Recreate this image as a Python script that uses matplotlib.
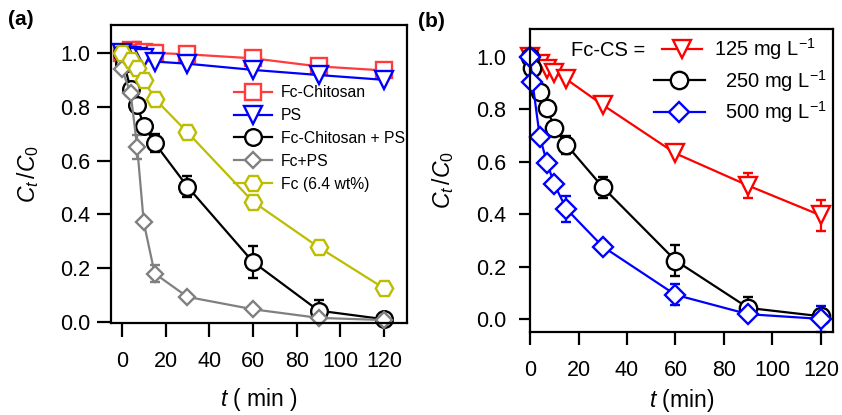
import numpy as np
import matplotlib
matplotlib.use("Agg")
from matplotlib import pyplot as plt

plt.rcParams['font.family'] = ['Liberation Sans', 'DejaVu Sans']
plt.rcParams['mathtext.fontset'] = 'custom'
plt.rcParams['mathtext.rm'] = 'Liberation Sans'
plt.rcParams['mathtext.it'] = 'Liberation Sans:italic'

# sampling times (min)
t_a = [0, 4, 7, 10, 15, 30, 60, 90, 120]
t_b = [0, 1, 4, 7, 10, 15, 30, 60, 90, 120]

# (a) control experiments
fc_chitosan = [1.0, 1.01, 1.0, 1.005, 1.0, 0.995, 0.98, 0.95, 0.935]
fc_chitosan_err = [0, 0, 0.04, 0, 0.03, 0, 0, 0, 0]
ps_only = [1.0, 0.99, 0.985, 0.98, 0.968, 0.96, 0.937, 0.918, 0.90]
fc_ps = [0.94, 0.85, 0.65, 0.37, 0.18, 0.093, 0.047, 0.015, 0.007]
fc_ps_err = [0, 0, 0.045, 0, 0.03, 0, 0, 0, 0]
fc_only = [1.0, 0.975, 0.945, 0.90, 0.83, 0.705, 0.447, 0.278, 0.125]

# Fc-Chitosan + PS, 250 mg/L (shared by both panels)
fc_cs_ps = [1.0, 0.96, 0.865, 0.805, 0.73, 0.665, 0.503, 0.223, 0.042, 0.01]
fc_cs_ps_err = [0, 0, 0, 0, 0, 0.035, 0.04, 0.06, 0.04, 0]

# (b) catalyst dosage
cs_125 = [1.0, 0.975, 0.955, 0.94, 0.915, 0.817, 0.632, 0.509, 0.395]
cs_125_err = [0, 0, 0, 0, 0, 0, 0, 0.048, 0.06]
cs_500 = [1.0, 0.905, 0.696, 0.597, 0.514, 0.42, 0.276, 0.092, 0.018, 0.0]
cs_500_err = [0, 0, 0, 0, 0, 0.05, 0, 0.04, 0, 0.05]

fig = plt.figure(figsize=(8.42, 4.15), dpi=100)
ax1 = fig.add_axes([0.1318, 0.2217, 0.3516, 0.7181])
ax2 = fig.add_axes([0.6295, 0.2000, 0.3599, 0.7301])


def series(ax, x, y, err, color, marker, ms):
    cont = ax.errorbar(x, y, yerr=err, color=color, marker=marker, ms=ms,
                       mfc='white', mec=color, mew=1.7, lw=1.6, elinewidth=1.6,
                       capsize=3.5, capthick=1.6, clip_on=False)
    # return only the data line so legend handles carry no error bars
    return cont[0]


red_a = '#ff3b3b'
yellow = '#bcbc00'
gray = '#808080'

lines_a = [
    series(ax1, t_a, fc_chitosan, fc_chitosan_err, red_a, 's', 11.5),
    series(ax1, t_a, ps_only, None, 'blue', 'v', 12.5),
    series(ax1, t_b, fc_cs_ps, fc_cs_ps_err, 'black', 'o', 12),
    series(ax1, t_a, fc_ps, fc_ps_err, gray, 'D', 8.5),
    series(ax1, t_a, fc_only, None, yellow, 'H', 12.5),
]
labels_a = ['Fc-Chitosan', 'PS', 'Fc-Chitosan + PS', 'Fc+PS', 'Fc (6.4 wt%)']

lines_b = [
    series(ax2, t_a, cs_125, cs_125_err, 'red', 'v', 13),
    series(ax2, t_b, fc_cs_ps, fc_cs_ps_err, 'black', 'o', 12.5),
    series(ax2, t_b, cs_500, cs_500_err, 'blue', 'D', 10),
]
labels_b = ['125 mg L$^{-1}$', '250 mg L$^{-1}$', '500 mg L$^{-1}$']

ax1.set_xlim(-5, 130.5)
ax1.set_ylim(-0.004, 1.104)
ax2.set_xlim(0, 125)
ax2.set_ylim(-0.05, 1.107)

for ax in (ax1, ax2):
    ax.set_xticks(np.arange(0, 121, 20))
    ax.set_yticks(np.arange(0, 1.01, 0.2))
    ax.yaxis.set_major_formatter(matplotlib.ticker.FormatStrFormatter('%.1f'))
    for s in ax.spines.values():
        s.set_linewidth(1.6)
    ax.tick_params(labelsize=15.5, width=1.6)
    ax.set_ylabel(r'$C_t\,/C_0$', fontsize=16.5)

ax1.tick_params(axis='x', length=10, pad=10)
ax1.tick_params(axis='y', length=10, pad=5)
ax2.tick_params(axis='x', length=9.5, pad=11)
ax2.tick_params(axis='y', length=8, pad=9)
ax1.set_xlabel(r'$t$ ( min )', fontsize=16.5, labelpad=10)
ax2.set_xlabel(r'$t$ (min)', fontsize=16.5, labelpad=4)
ax1.yaxis.set_label_coords(-0.235, 0.5)
ax2.yaxis.set_label_coords(-0.245, 0.5)

ax1.legend(lines_a, labels_a, loc='upper left', bbox_to_anchor=(0.415, 0.798),
           frameon=False, fontsize=11.3, handlelength=2.4, handletextpad=0.6,
           labelspacing=0.5, borderpad=0, borderaxespad=0)

# dosage legend: first entry sits after the "Fc-CS =" prefix
leg_top = ax2.legend(lines_b[:1], labels_b[:1], loc='upper left',
                     bbox_to_anchor=(0.435, 0.975), frameon=False, fontsize=14.5,
                     handlelength=2.0, handletextpad=0.6, borderpad=0,
                     borderaxespad=0)
ax2.add_artist(leg_top)
ax2.legend(lines_b[1:], labels_b[1:], loc='upper left', bbox_to_anchor=(0.41, 0.872),
           frameon=False, fontsize=14.5, handlelength=2.5, handletextpad=1.0,
           labelspacing=0.28, borderpad=0, borderaxespad=0)
ax2.text(0.135, 0.93, 'Fc-CS =', transform=ax2.transAxes, fontsize=14.5,
         va='center', ha='left')

fig.text(0.009, 0.952, '(a)', fontsize=15, fontweight='bold', va='center')
fig.text(0.497, 0.947, '(b)', fontsize=15, fontweight='bold', va='center')

fig.savefig('out.png', dpi=100)
